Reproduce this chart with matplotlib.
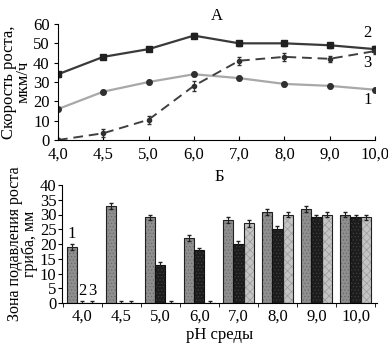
import matplotlib
matplotlib.use("Agg")
import matplotlib.pyplot as plt
import numpy as np

plt.rcParams['font.family'] = ['Liberation Serif', 'DejaVu Serif']
plt.rcParams['hatch.linewidth'] = 0.5

ph_labels = ["4,0", "4,5", "5,0", "6,0", "7,0", "8,0", "9,0", "10,0"]

rate1 = [16, 25, 30, 34, 32, 29, 28, 26]
rate2 = [34, 43, 47, 54, 50, 50, 49, 47]
rate3 = [0, 3.5, 10.5, 28, 41, 43, 42, 46]
rate1_err = [1, 0.8, 0.8, 1, 1, 1, 1, 1]
rate2_err = [1.2, 1, 1.2, 1.2, 1.2, 1.2, 1.2, 1.5]
rate3_err = [0.8, 2, 2, 2.5, 2, 2, 1.5, 1.5]

zone1 = [19, 33, 29, 22, 28, 31, 32, 30]
zone2 = [0, 0, 13, 18, 20, 25, 29, 29]
zone3 = [0, 0, 0, 0, 27, 30, 30, 29]
zone1_err = [1, 1, 1, 1, 1, 1, 1, 1]
zone2_err = [0.8, 0.8, 1, 0.8, 1, 1, 1, 1]
zone3_err = [0.8, 0.8, 0.8, 0.8, 1.2, 1, 1, 1]

FS = 12
fig = plt.figure(figsize=(3.88, 3.47), dpi=100)
W, H = 388, 347
ax1 = fig.add_axes([58 / W, 1 - 140 / H, (375 - 58) / W, (140 - 24) / H])
ax2 = fig.add_axes([62 / W, 1 - 303 / H, (377 - 62) / W, (303 - 185) / H])

x = np.arange(len(ph_labels))

ax1.errorbar(x, rate1, yerr=rate1_err, color='#a8a8a8', lw=1.6, marker='o', ms=4,
             mfc='#303030', mec='#303030', ecolor='#303030', elinewidth=0.8, capsize=1.5)
ax1.errorbar(x, rate2, yerr=rate2_err, color='#3a3a3a', lw=1.6, marker='s', ms=4.5,
             mfc='#202020', mec='#202020', ecolor='#202020', elinewidth=0.8, capsize=1.5)
ax1.errorbar(x, rate3, yerr=rate3_err, color='#404040', lw=1.4, ls=(0, (5, 3)), marker='o', ms=3,
             mfc='#303030', mec='#303030', ecolor='#303030', elinewidth=0.8, capsize=1.5)

ax1.set_xlim(0, 7)
ax1.set_ylim(0, 60)
ax1.set_yticks([0, 10, 20, 30, 40, 50, 60])
ax1.set_xticks(x)
ax1.set_xticklabels(ph_labels)
ax1.spines['top'].set_visible(False)
ax1.spines['right'].set_visible(False)
ax1.tick_params(axis='y', labelsize=FS, length=3, pad=3)
ax1.tick_params(axis='x', labelsize=FS, length=3, direction='in', pad=5)
ax1.set_ylabel("Скорость роста,\nмкм/ч", fontsize=FS, linespacing=0.9, labelpad=1)
ax1.set_title("А", fontsize=FS, pad=3)
ax1.text(6.84, 55.3, "2", fontsize=FS, ha='center', va='center')
ax1.text(6.84, 39.8, "3", fontsize=FS, ha='center', va='center')
ax1.text(6.84, 20.7, "1", fontsize=FS, ha='center', va='center')

bw = 0.26
ek = dict(elinewidth=0.8, capsize=1.5, ecolor='#202020')
# filled, textured bodies
ax2.bar(x - bw, zone1, bw, color='#8f8f8f', edgecolor='#6a6a6a', lw=0, hatch='.....')
ax2.bar(x, zone2, bw, color='#1c1c1c', edgecolor='#404040', lw=0, hatch='.....')
ax2.bar(x + bw, zone3, bw, color='#c4c4c4', edgecolor='#9a9a9a', lw=0, hatch='xxxx')
# outlines with error bars
ax2.bar(x - bw, zone1, bw, yerr=zone1_err, fill=False, edgecolor='#202020', lw=0.8, error_kw=ek)
ax2.bar(x, zone2, bw, yerr=zone2_err, fill=False, edgecolor='#101010', lw=0.8, error_kw=ek)
ax2.bar(x + bw, zone3, bw, yerr=zone3_err, fill=False, edgecolor='#202020', lw=0.8, error_kw=ek)

ax2.set_xlim(-0.52, 7.55)
ax2.set_ylim(0, 40)
ax2.set_yticks([0, 5, 10, 15, 20, 25, 30, 35, 40])
ax2.set_xticks(x)
ax2.set_xticklabels(ph_labels)
ax2.set_xticks(np.arange(-0.5, 7.6, 1), minor=True)
ax2.tick_params(axis='x', which='major', length=0, labelsize=FS, pad=4)
ax2.tick_params(axis='x', which='minor', length=3, direction='out')
ax2.tick_params(axis='y', labelsize=FS, length=3, pad=1)
ax2.spines['top'].set_visible(False)
ax2.spines['right'].set_visible(False)
ax2.set_ylabel("Зона подавления роста\nгриба, мм", fontsize=11.5, linespacing=0.9, labelpad=1)
ax2.set_xlabel("pH среды", fontsize=FS, labelpad=2)
ax2.set_title("Б", fontsize=FS, pad=2)
ax2.text(-bw, 23.5, "1", fontsize=FS, ha='center', va='center')
ax2.text(0, 4.2, "2", fontsize=FS, ha='center', va='center')
ax2.text(bw, 4.2, "3", fontsize=FS, ha='center', va='center')

fig.savefig("out.png", dpi=100)
